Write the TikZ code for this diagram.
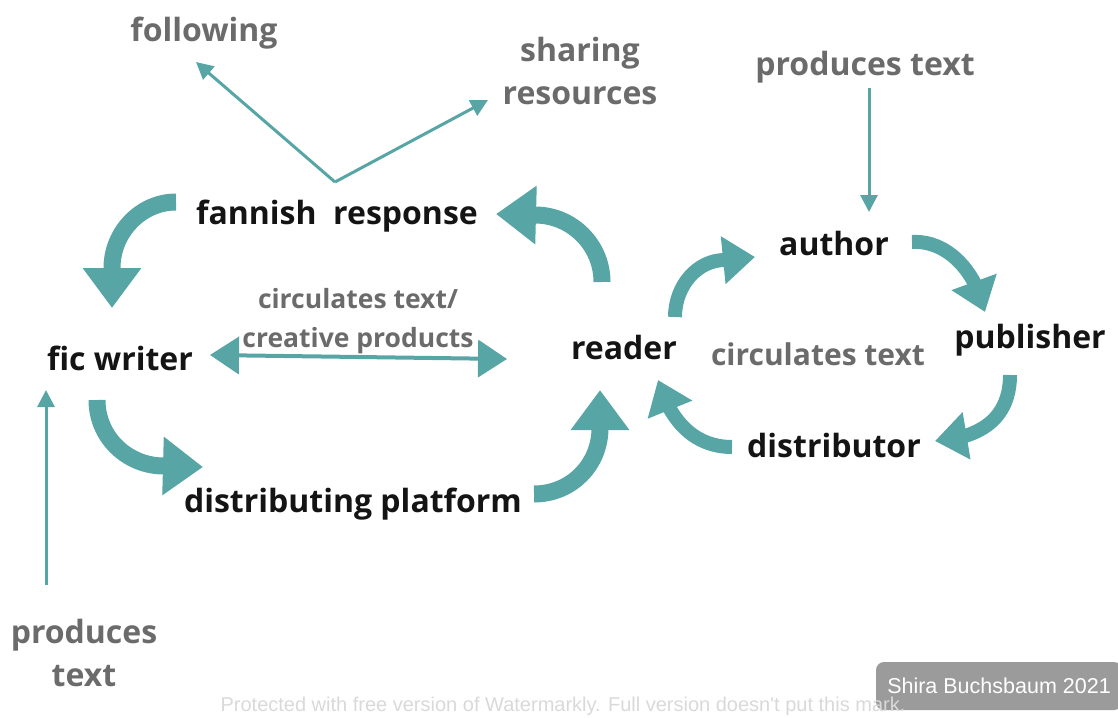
\documentclass[tikz,border=0pt]{standalone}
\usepackage{fontspec}
\setmainfont{Open Sans}
\newfontfamily\creditfont{Liberation Sans}
\usetikzlibrary{arrows.meta, positioning, bending}

\definecolor{arrowteal}{HTML}{58A5A6}
\definecolor{notegray}{HTML}{6B6B6B}
\definecolor{creditgray}{HTML}{9B9B9B}

\tikzset{
  lbl/.style={font=\fontsize{32}{38}\selectfont\bfseries, text=black!92},
  note/.style={font=\fontsize{32}{43}\selectfont\bfseries, text=notegray, align=center},
  bigarrow/.style={draw=arrowteal, line width=17pt, -{Triangle[width=56pt,length=40pt]}},
  midarrow/.style={draw=arrowteal, line width=14pt, -{Triangle[width=46pt,length=32pt]}},
  pointer/.style={draw=arrowteal, line width=3pt, -{Triangle[width=17pt,length=17pt]}},
  twoway/.style={draw=arrowteal, line width=4pt, {Triangle[width=37pt,length=29pt]}-{Triangle[width=37pt,length=29pt]}}
}

\begin{document}
\begin{tikzpicture}[x=1pt, y=-1pt]
  \useasboundingbox (0,0) rectangle (1118,717);

  % labels
  \node[note] (following) at (204,33) {following};
  \node[note] (sharing) at (580,71) {sharing\\resources};
  \node[note] (prodtop) at (865,67) {produces text};
  \node[lbl] (fannish) at (337,216) {fannish\ \ response};
  \node[lbl] (author) at (834,243) {author};
  \node[lbl] (ficwriter) at (120,358) {fic writer};
  \node[lbl] (reader) at (624,347) {reader};
  \node[note, font=\fontsize{26.5}{39}\selectfont\bfseries] (circleft) at (358,321) {circulates text/\\creative products};
  \node[note, font=\fontsize{30}{36}\selectfont\bfseries] (circright) at (818,354) {circulates text};
  \node[lbl] (publisher) at (1030,340) {publisher};
  \node[lbl] (distributor) at (834,445) {distributor};
  \node[lbl] (platform) at (353,504) {distributing platform};
  \node[note] (prodbottom) at (84,653) {produces\\text};

  % connector ends
  \coordinate (split) at (335,182);
  \coordinate (followtip) at (196,62);
  \coordinate (sharetip) at (488,100);
  \coordinate (authortop) at (869,88);
  \coordinate (authortip) at (869,212);
  \coordinate (writerbase) at (46,585);
  \coordinate (writertip) at (46,390);
  \coordinate (leftend) at (210,355);
  \coordinate (rightend) at (507,359);

  % thin arrows
  \draw[pointer] (split) -- (followtip);
  \draw[pointer] (split) -- (sharetip);
  \draw[pointer] (authortop) -- (authortip);
  \draw[pointer] (writerbase) -- (writertip);
  \draw[twoway] (leftend) -- (rightend);

  % fan cycle
  \draw[bigarrow] (176,202) .. controls (141,202) and (112,232) .. (112,268) -- (112,308);
  \draw[bigarrow] (602,282) .. controls (602,245) and (572,215) .. (535,215) -- (496,214);
  \draw[bigarrow] (97,400) .. controls (97,437) and (127,466) .. (164,466) -- (203,467);
  \draw[bigarrow] (534,494) .. controls (571,494) and (600,465) .. (600,428) -- (600,390);

  % publishing cycle
  \draw[midarrow] (675,317) .. controls (675,286) and (697,260) .. (725,260) -- (755,257);
  \draw[midarrow] (912,242) .. controls (945,240) and (975,268) .. (985,312);
  \draw[midarrow] (1010,375) .. controls (1010,415) and (985,438) .. (935,441);
  \draw[midarrow] (732,447) .. controls (700,447) and (672,428) .. (658,380);

  % credits
  \node[fill=creditgray, rounded corners=8pt, minimum width=246pt, minimum height=48pt,
        text=white, font=\creditfont\fontsize{21.5}{24}\selectfont] (credit) at (999,686) {Shira Buchsbaum 2021};
  \node[text=gray!30, font=\creditfont\fontsize{20}{24}\selectfont] (watermark) at (563,706)
        {Protected with free version of Watermarkly. Full version doesn't put this mark.};
\end{tikzpicture}
\end{document}
